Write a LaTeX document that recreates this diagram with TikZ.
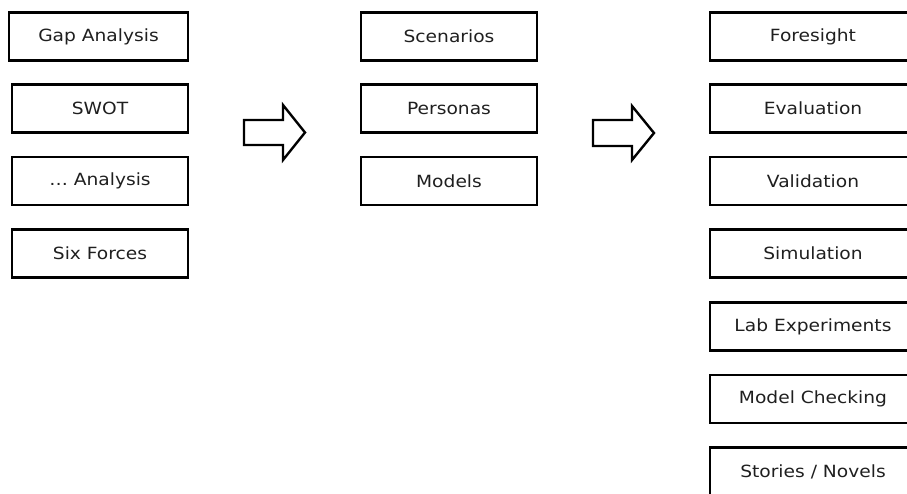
\documentclass[tikz,border=0pt]{standalone}
\usepackage{fontspec}
\setmainfont{DejaVu Sans}[FakeStretch=1.11]
\begin{document}
\begin{tikzpicture}[x=1pt,y=1pt,
  box/.style={draw=black, line width=2.5pt, rectangle, minimum height=48pt,
    inner sep=0pt, text=black!88, font=\fontsize{16.8}{20}\selectfont},
  narrowbox/.style={box, minimum width=176pt},
  widebox/.style={box, minimum width=206pt},
  blockarrow/.style={draw=black, line width=2.4pt, fill=white, line join=miter}
]
\useasboundingbox (0,0) rectangle (907,-493);
\clip (0,0) rectangle (907,-493);

% first stage: analysis methods
\node[box, minimum width=179pt] (gap) at (98.5,-36.5) {Gap Analysis};
\node[narrowbox] (swot) at (100,-108.5) {SWOT};
\node[narrowbox] (dots) at (100,-181) {\ldots{} Analysis};
\node[narrowbox] (six)  at (100,-253.5) {Six Forces};

% second stage: artefacts
\node[narrowbox] (scen) at (449,-36.5) {Scenarios};
\node[narrowbox] (pers) at (449,-108.5) {Personas};
\node[narrowbox] (mod)  at (449,-181) {Models};

% third stage: assessment
\node[widebox] (fore) at (813,-36.5) {Foresight};
\node[widebox] (eval) at (813,-108.5) {Evaluation};
\node[widebox] (vali) at (813,-181) {Validation};
\node[widebox] (simu) at (813,-253.5) {Simulation};
\node[widebox] (lab)  at (813,-326.5) {Lab Experiments};
\node[widebox] (mc)   at (813,-399) {Model Checking};
\node[widebox] (sto)  at (813,-471.5) {Stories / Novels};

% block arrows between the stages
\draw[blockarrow] (244,-120) -- (283,-120) -- (283,-105) -- (305,-132.5)
  -- (283,-160) -- (283,-145) -- (244,-145) -- cycle;
\draw[blockarrow] (593,-120) -- (632,-120) -- (632,-106) -- (654,-133)
  -- (632,-160) -- (632,-146) -- (593,-146) -- cycle;
\end{tikzpicture}
\end{document}
